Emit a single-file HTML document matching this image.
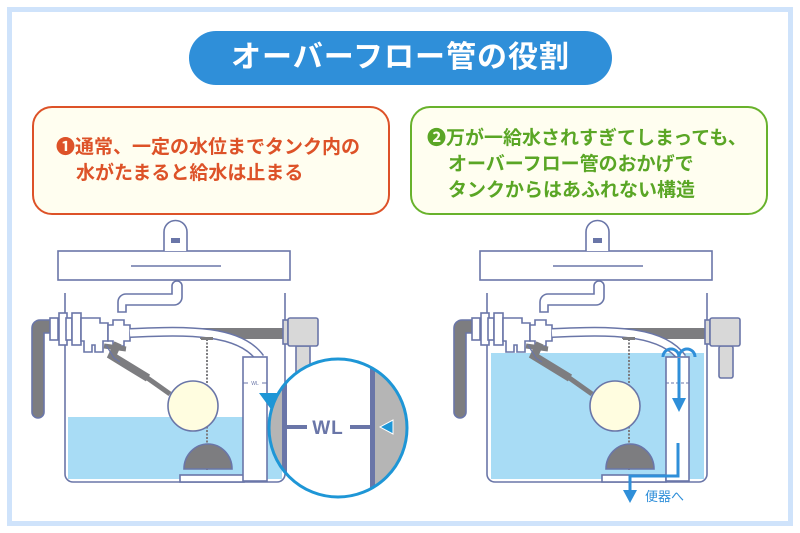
<!DOCTYPE html>
<html><head><meta charset="utf-8"><style>
html,body{margin:0;padding:0;background:#fff}
body{width:800px;height:533px;position:relative;overflow:hidden;font-family:"Liberation Sans","Noto Sans CJK JP",sans-serif}
.frame{position:absolute;left:7px;top:7px;width:776px;height:509px;border:5px solid #cfe3fb}
.pill{position:absolute;left:189px;top:31px;width:423px;height:54px;border-radius:27px;background:#2f8fd9;color:#fff;font-size:30px;line-height:54px;text-align:center;letter-spacing:1px;font-weight:bold}
.box{position:absolute;top:106px;height:105px;border-radius:20px;background:#fffef0;font-weight:bold;font-size:19px;line-height:26px}
.b1{left:32px;width:354px;border:2.5px solid #dd5228;color:#dd5228}
.b2{left:410px;width:354px;border:2.5px solid #68b22c;color:#5aa625}
.t{position:absolute;white-space:nowrap}
svg{position:absolute;left:0;top:0}
</style></head><body>
<div class="frame"></div>
<div class="pill">オーバーフロー管の役割</div>
<div class="box b1"><div class="t" style="left:22px;top:27px">❶通常、一定の水位までタンク内の</div><div class="t" style="left:42px;top:53px">水がたまると給水は止まる</div></div>
<div class="box b2"><div class="t" style="left:15px;top:18px">❷万が一給水されすぎてしまっても、</div><div class="t" style="left:36px;top:44px">オーバーフロー管のおかげで</div><div class="t" style="left:36px;top:70px">タンクからはあふれない構造</div></div>
<svg width="800" height="533" viewBox="0 0 800 533">
<defs>
<g id="tank" stroke="#6a76a8" stroke-width="1.6">
 <rect x="58" y="251" width="232" height="29" fill="#fff"/>
 <path d="M164 251 V232 a11.5 11.5 0 0 1 23 0 V251" fill="#fff"/>
 <rect x="171" y="238" width="9" height="5" fill="#6a76a8" stroke="none"/>
 <line x1="131" y1="266" x2="221" y2="266"/>
 <path d="M65 293 V474 a8 8 0 0 0 8 8 H277 a8 8 0 0 0 8 -8 V293" fill="none"/>
 <path d="M118 312 V302 a8 8 0 0 1 8 -8 H172 V286 a5 5 0 0 1 10 0 V297 a8 8 0 0 1 -8 8 H126 V312 Z" fill="#fff"/>
 <path d="M55 320 H40 a8 8 0 0 0 -8 8 V412 a6 6 0 0 0 12 0 V333 H55 Z" fill="#7d7d80"/>
 <rect x="200" y="328" width="84" height="11" fill="#7d7d80" stroke="none"/>
 <rect x="50" y="318" width="8" height="22" fill="#fff"/>
 <rect x="59" y="313" width="8" height="32" fill="#fff"/>
 <rect x="66" y="318" width="6" height="22" fill="#fff"/>
 <rect x="72" y="313" width="9" height="32" fill="#fff"/>
 <path d="M81 318 H100 V323 H108 V341 H103 V352 H95 V345 H92 V352 H84 V341 H81 Z" fill="#fff"/>
 <path d="M108 325 H113 V320 H124 V325 H130 V341 H124 V346 H113 V341 H108 Z" fill="#fff"/>
 <path d="M130 333 C190 330 240 330 260 358" fill="none" stroke="#6a76a8" stroke-width="10"/>
 <path d="M130 333 C190 330 240 330 260 358" fill="none" stroke="#fff" stroke-width="7"/>
 <path d="M104 346 L126 349" stroke="#7d7d80" stroke-width="5"/>
 <path d="M118 343 L112 356 L148 378" stroke="#7d7d80" stroke-width="8" fill="none"/>
 <path d="M146 377 L170 394" stroke="#7d7d80" stroke-width="5" fill="none"/>
 <path d="M106 345 L114 358 L120 362" stroke="#6a76a8" stroke-width="1.2" fill="none"/>
 <line x1="207" y1="339" x2="207" y2="470" stroke="#7d7d80" stroke-width="2" stroke-dasharray="2 1.5"/>
 <rect x="201" y="337" width="12" height="3" fill="#7d7d80" stroke="none"/>
 <circle cx="193" cy="406" r="25" fill="#fffde0"/>
 <path d="M184 469 a24 25 0 0 1 48 0 Z" fill="#7d7d80"/>
 <rect x="180" y="475" width="64" height="7" fill="#fff"/>
 <rect x="283" y="320" width="5" height="24" fill="#d8d8d8"/>
 <rect x="288" y="318" width="30" height="28" rx="2" fill="#d8d8d8"/>
</g>
</defs>

<rect x="68" y="417" width="214" height="62" fill="#a8dcf5"/>
<rect x="296" y="346" width="14" height="30" fill="#d8d8d8" stroke="#6a76a8" stroke-width="1.6"/>
<use href="#tank"/>
<rect x="243" y="357" width="24" height="124" fill="#fff" stroke="#6a76a8" stroke-width="1.6"/>
<path d="M243 383 H248 M262 383 H267" stroke="#6a76a8" stroke-width="1"/>
<text x="255" y="385" font-size="5" fill="#6a76a8" text-anchor="middle">WL</text>
<path d="M259 393 L279 393 L273 412 Z" fill="#1e96d6"/>
<clipPath id="cc"><circle cx="338" cy="428" r="69"/></clipPath>
<g clip-path="url(#cc)">
 <rect x="260" y="350" width="160" height="160" fill="#fff"/>
 <rect x="260" y="350" width="24" height="160" fill="#b5b5b5"/>
 <rect x="375" y="350" width="50" height="160" fill="#b5b5b5"/>
 <rect x="282" y="350" width="5" height="160" fill="#6a76a8"/>
 <rect x="370" y="350" width="5" height="160" fill="#6a76a8"/>
 <rect x="285" y="425" width="22" height="4" fill="#6a76a8"/>
 <rect x="350" y="425" width="22" height="4" fill="#6a76a8"/>
 <text x="328" y="434" font-size="19" font-weight="bold" fill="#6a76a8" text-anchor="middle" letter-spacing="1">WL</text>
 <path d="M380 427 L393 420 L393 434 Z" fill="#1e96d6" stroke="#fff" stroke-width="1"/>
</g>
<circle cx="338" cy="428" r="69" fill="none" stroke="#1e96d6" stroke-width="3"/>

<rect x="491" y="353" width="213" height="126" fill="#a8dcf5"/>
<rect x="719" y="346" width="14" height="32" rx="2" fill="#d8d8d8" stroke="#6a76a8" stroke-width="1.6"/>
<g transform="translate(422,0)"><use href="#tank"/></g>
<rect x="666" y="357" width="23" height="124" fill="#fff" stroke="#6a76a8" stroke-width="1.6"/>
<path d="M666 383 H689" stroke="#6a76a8" stroke-width="1" stroke-dasharray="3 2"/>
<g stroke="#2f8fd9" stroke-width="3" fill="none">
 <path d="M663 357 a8 8 0 0 1 16 0"/>
 <path d="M679 357 a8 8 0 0 1 16 0"/>
 <path d="M679 358 V400"/>
 <path d="M678 443 V476 H630 V492"/>
</g>
<path d="M672 398 L686 398 L679 412 Z" fill="#2f8fd9"/>
<path d="M623 490 L637 490 L630 503 Z" fill="#2f8fd9"/>
<text x="645" y="501" font-size="13" fill="#2f8fd9" font-family="Liberation Sans,Noto Sans CJK JP,sans-serif">便器へ</text>
</svg>
</body></html>
